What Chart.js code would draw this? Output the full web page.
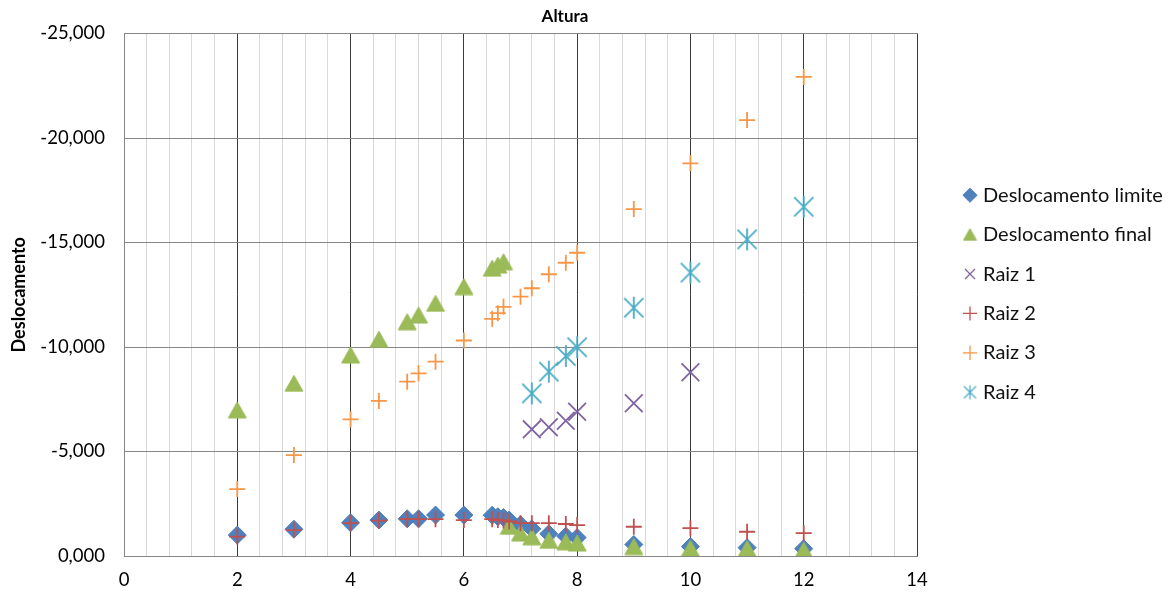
<!DOCTYPE html>
<html lang="pt">
<head>
<meta charset="utf-8">
<title>Altura x Deslocamento</title>
<script src="https://cdn.jsdelivr.net/npm/chart.js@4.4.1/dist/chart.umd.min.js"></script>
<style>
  html, body { margin: 0; padding: 0; background: #fff; }
  #wrap { width: 1173px; height: 594px; }
</style>
</head>
<body>
<div id="wrap"><canvas id="grafico" width="1173" height="594"></canvas></div>
<script>
// Alturas (eixo x) comuns a todas as séries
const alturas = [2, 3, 4, 4.5, 5, 5.2, 5.5, 6, 6.5, 6.6, 6.7, 6.8, 7, 7.2, 7.5, 7.8, 8, 9, 10, 11, 12];

// Deslocamentos (eixo y); null = sem valor nessa altura
const deslocamentoLimite = [-1.00, -1.28, -1.59, -1.72, -1.78, -1.78, -1.96, -1.96, -1.95, -1.88, -1.84, -1.72, -1.50, -1.30, -1.06, -0.95, -0.88, -0.55, -0.45, -0.40, -0.35];
const deslocamentoFinal  = [-6.99, -8.26, -9.62, -10.37, -11.21, -11.53, -12.09, -12.89, -13.77, -13.92, -14.08, -1.42, -1.10, -0.92, -0.75, -0.68, -0.62, -0.45, -0.37, -0.35, -0.29];
const raiz1 = [null, null, null, null, null, null, null, null, null, null, null, null, null, -6.06, -6.16, -6.47, -6.90, -7.31, -8.79, null, null];
const raiz2 = [-0.93, -1.24, -1.57, -1.69, -1.76, -1.76, -1.76, -1.72, -1.76, -1.72, -1.70, -1.65, -1.57, -1.57, -1.57, -1.53, -1.48, -1.40, -1.33, -1.16, -1.09];
const raiz3 = [-3.20, -4.83, -6.54, -7.42, -8.34, -8.74, -9.30, -10.31, -11.35, -11.62, -11.92, null, -12.41, -12.81, -13.48, -14.03, -14.51, -16.60, -18.79, -20.86, -22.92];
const raiz4 = [null, null, null, null, null, null, null, null, null, null, null, null, null, -7.78, -8.82, -9.57, -9.99, -11.88, -13.56, -15.15, -16.71];

// Rótulos dos eixos e das séries
const tituloX = 'Altura';
const tituloY = 'Deslocamento';
const nomesSeries = ['Deslocamento limite', 'Deslocamento final', 'Raiz 1', 'Raiz 2', 'Raiz 3', 'Raiz 4'];

const FONTE = 'Lato, "Open Sans", "Liberation Sans", sans-serif';

function pontos(valores) {
  return alturas
    .map((x, i) => (valores[i] === null ? null : { x: x, y: valores[i] }))
    .filter(p => p !== null);
}

// Marcador asterisco (X com traço vertical)
function asterisco(tam, cor, esp) {
  const c = document.createElement('canvas');
  c.width = tam; c.height = tam;
  const g = c.getContext('2d');
  const m = tam / 2, d = tam * 0.4;
  g.strokeStyle = cor;
  g.lineWidth = esp;
  g.beginPath();
  g.moveTo(m - d, m - d); g.lineTo(m + d, m + d);
  g.moveTo(m + d, m - d); g.lineTo(m - d, m + d);
  g.moveTo(m, m - d * 1.15); g.lineTo(m, m + d * 1.15);
  g.stroke();
  return c;
}

// Marcador triângulo centrado na sua caixa
function triangulo(larg, alt, preenchimento, contorno) {
  const c = document.createElement('canvas');
  c.width = Math.ceil(larg + 2); c.height = Math.ceil(alt + 2);
  const g = c.getContext('2d');
  g.beginPath();
  g.moveTo(1 + larg / 2, 1);
  g.lineTo(1 + larg, 1 + alt);
  g.lineTo(1, 1 + alt);
  g.closePath();
  g.fillStyle = preenchimento;
  g.fill();
  g.strokeStyle = contorno;
  g.lineWidth = 1;
  g.stroke();
  return c;
}

const asteriscoGrafico = asterisco(24, '#4BACC6', 1.8);
const asteriscoLegenda = asterisco(15, '#4BACC6', 1.3);
const trianguloGrafico = triangulo(18, 16, '#9BBB59', '#98B954');
const trianguloLegenda = triangulo(13, 11.5, '#9BBB59', '#98B954');

function ehPrincipal(v) {
  return Math.abs(v / 2 - Math.round(v / 2)) < 1e-6;
}

// Título do eixo x desenhado acima da área do gráfico
const tituloTopo = {
  id: 'tituloTopo',
  afterDraw(chart) {
    const g = chart.ctx;
    g.save();
    g.font = 'bold 17px ' + FONTE;
    g.fillStyle = '#000';
    g.textAlign = 'center';
    g.textBaseline = 'middle';
    g.fillText(tituloX, 565, 17);
    g.restore();
  }
};

// Largura fixa da legenda à direita e ajuste da sua posição
const LARGURA_LEGENDA = 256;
const DESLOC_LEGENDA_X = 30.6;
const DESLOC_LEGENDA_Y = -1;
const posLegenda = {
  id: 'posLegenda',
  beforeLayout(chart) {
    const lg = chart.legend;
    if (lg && !lg.__larguraFixa) {
      const fitOriginal = lg.fit.bind(lg);
      lg.fit = function () { fitOriginal(); this.width = LARGURA_LEGENDA; };
      lg.__larguraFixa = true;
    }
  },
  afterLayout(chart) {
    const lg = chart.legend;
    if (!lg) return;
    lg.left += DESLOC_LEGENDA_X; lg.right += DESLOC_LEGENDA_X;
    lg.top += DESLOC_LEGENDA_Y; lg.bottom += DESLOC_LEGENDA_Y;
  }
};

function criarGrafico() {
  const datasets = [
    { label: nomesSeries[0], data: pontos(deslocamentoLimite), pointStyle: 'rectRot', pointRadius: 9,
      backgroundColor: '#4F81BD', borderColor: '#4A7EBB', borderWidth: 1, order: 6 },
    { label: nomesSeries[1], data: pontos(deslocamentoFinal), pointStyle: trianguloGrafico, pointRadius: 10,
      backgroundColor: '#9BBB59', borderColor: '#98B954', borderWidth: 1, order: 5 },
    { label: nomesSeries[2], data: pontos(raiz1), pointStyle: 'crossRot', pointRadius: 12.5,
      backgroundColor: '#8064A2', borderColor: '#8064A2', borderWidth: 1.8, order: 4 },
    { label: nomesSeries[3], data: pontos(raiz2), pointStyle: 'cross', pointRadius: 8,
      backgroundColor: '#C0504D', borderColor: '#C0504D', borderWidth: 1.8, order: 3 },
    { label: nomesSeries[4], data: pontos(raiz3), pointStyle: 'cross', pointRadius: 8,
      backgroundColor: '#F79646', borderColor: '#F79646', borderWidth: 1.8, order: 2 },
    { label: nomesSeries[5], data: pontos(raiz4), pointStyle: asteriscoGrafico, pointRadius: 12,
      backgroundColor: '#4BACC6', borderColor: '#4BACC6', borderWidth: 1.8, order: 1 }
  ];
  datasets.forEach(d => { d.showLine = false; d.pointHoverRadius = d.pointRadius; });

  new Chart(document.getElementById('grafico'), {
    type: 'scatter',
    data: { datasets: datasets },
    options: {
      responsive: false,
      animation: false,
      devicePixelRatio: 1,
      events: [],
      layout: { padding: { left: 0, right: 0, top: 33.5, bottom: 0 } },
      plugins: {
        tooltip: { enabled: false },
        title: { display: false },
        legend: {
          display: true,
          position: 'right',
          align: 'center',
          fullSize: false,
          labels: {
            usePointStyle: true,
            boxWidth: 6,
            boxHeight: 10,
            padding: 19.4,
            color: '#111',
            font: { family: FONTE, size: 20 },
            sort: (a, b) => a.datasetIndex - b.datasetIndex,
            generateLabels(chart) {
              const itens = Chart.defaults.plugins.legend.labels.generateLabels(chart);
              itens.forEach(it => {
                if (it.pointStyle === asteriscoGrafico) it.pointStyle = asteriscoLegenda;
                if (it.pointStyle === trianguloGrafico) it.pointStyle = trianguloLegenda;
                if (it.pointStyle === 'cross' || it.pointStyle === 'crossRot') it.lineWidth = 1.3;
              });
              return itens;
            }
          }
        }
      },
      scales: {
        x: {
          type: 'linear',
          min: 0,
          max: 14,
          afterFit(s) { s.height = 594 - 556; },
          ticks: {
            stepSize: 0.4,
            autoSkip: false,
            maxRotation: 0,
            padding: 13,
            color: '#000',
            font: { family: FONTE, size: 18.5 },
            callback: v => (ehPrincipal(v) ? String(Math.round(v)) : '')
          },
          grid: {
            drawTicks: false,
            lineWidth: 1,
            color: c => {
              const v = c.tick ? c.tick.value : 0;
              if (Math.abs(v) < 1e-6) return '#868686';
              return ehPrincipal(v) ? '#3a3a3a' : '#d9d9d9';
            }
          },
          border: { color: '#868686' }
        },
        y: {
          type: 'linear',
          min: -25,
          max: 0,
          reverse: true,
          afterFit(s) { s.width = 124; },
          ticks: {
            stepSize: 5,
            padding: 19,
            color: '#000',
            font: { family: FONTE, size: 18.5 },
            callback: v => Number(v).toFixed(3).replace('.', ',')
          },
          grid: { drawTicks: false, color: '#868686', lineWidth: 1 },
          border: { color: '#868686' },
          title: {
            display: true,
            text: tituloY,
            color: '#000',
            font: { family: FONTE, size: 18, weight: 'bold' },
            padding: { top: 8, bottom: 0 }
          }
        }
      }
    },
    plugins: [tituloTopo, posLegenda]
  });
}

const cargas = document.fonts
  ? Promise.all([document.fonts.load('16px Lato'), document.fonts.load('bold 16px Lato')]).catch(() => null)
  : Promise.resolve();
cargas.then(criarGrafico, criarGrafico);
</script>
</body>
</html>
